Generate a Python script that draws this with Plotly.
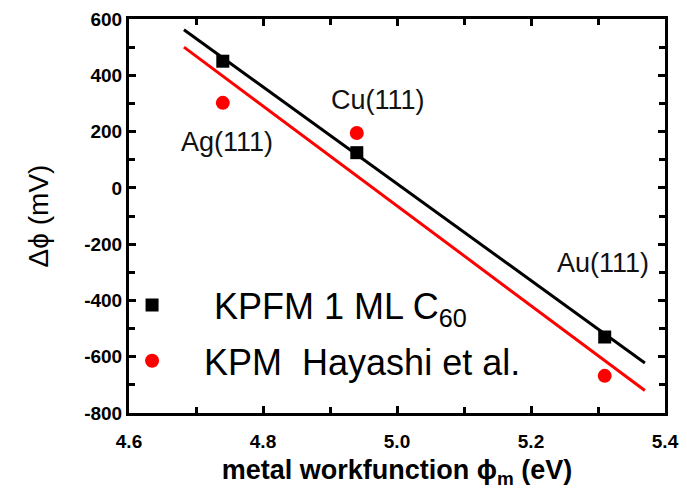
import plotly.graph_objects as go

# Data
metals = ["Ag(111)", "Cu(111)", "Au(111)"]
workfunction = [4.74, 4.94, 5.31]
kpfm_c60 = [450, 125, -530]
kpm_hayashi = [302, 195, -668]

fit_x = [4.682, 5.37]
fit_kpfm = [562, -622]
fit_kpm = [500, -720]

label_x = [4.746, 4.972, 5.307]
label_y = [163, 312, -267]

x_tickvals = [4.6, 4.8, 5.0, 5.2, 5.4]
x_ticktext = ["4.6", "4.8", "5.0", "5.2", "5.4"]
y_tickvals = [600, 400, 200, 0, -200, -400, -600, -800]
y_ticktext = ["600", "400", "200", "0", "-200", "-400", "-600", "-800"]

FONT = "Arial, Liberation Sans, sans-serif"

fig = go.Figure()

fig.add_trace(go.Scatter(x=fit_x, y=fit_kpfm, mode="lines",
                         line=dict(color="black", width=3), showlegend=False,
                         hoverinfo="skip"))
fig.add_trace(go.Scatter(x=fit_x, y=fit_kpm, mode="lines",
                         line=dict(color="#ff0000", width=3), showlegend=False,
                         hoverinfo="skip"))
fig.add_trace(go.Scatter(x=workfunction, y=kpfm_c60, mode="markers",
                         name="\u00a0KPFM 1 ML C<sub>60</sub>",
                         legendgroup="a",
                         marker=dict(symbol="square", color="black", size=13)))
fig.add_trace(go.Scatter(x=workfunction, y=kpm_hayashi, mode="markers",
                         name="KPM\u00a0\u00a0Hayashi et al.",
                         legendgroup="b",
                         marker=dict(symbol="circle", color="#ff0000", size=14)))

for t, x, y in zip(metals, label_x, label_y):
    fig.add_annotation(x=x, y=y, text=t, showarrow=False,
                       font=dict(family=FONT, size=27, color="#111111"))

axis_common = dict(
    showline=True, linecolor="black", linewidth=3, mirror="ticks",
    ticks="inside", ticklen=7, tickwidth=2.5, tickcolor="black",
    showgrid=False, zeroline=False, automargin=False,
    tickfont=dict(family=FONT, size=19, color="black", weight="bold"),
)

fig.update_xaxes(range=[4.6, 5.4], tickvals=x_tickvals, ticktext=x_ticktext,
                 minor=dict(dtick=0.1, tick0=4.6, ticks="inside", ticklen=6, tickwidth=2.5,
                            tickcolor="black", showgrid=False),
                 title=dict(text="metal workfunction \u03d5<sub>m</sub> (eV)",
                            font=dict(family=FONT, size=27, color="black", weight="bold"),
                            standoff=10),
                 ticklabelstandoff=9,
                 **axis_common)
fig.update_yaxes(range=[-800, 600], tickvals=y_tickvals, ticktext=y_ticktext,
                 minor=dict(dtick=100, tick0=0, ticks="inside", ticklen=6, tickwidth=2.5,
                            tickcolor="black", showgrid=False),
                 title=dict(text="\u0394\u03d5 (mV)",
                            font=dict(family=FONT, size=28, color="black"),
                            standoff=28),
                 ticklabelstandoff=0,
                 **axis_common)

# The page body adds an 8 px offset; size the figure to fit the 687x493 window.
fig.update_layout(
    width=679, height=485,
    margin=dict(l=121, r=22, t=11, b=80),
    paper_bgcolor="white", plot_bgcolor="white",
    font=dict(family=FONT, color="black"),
    showlegend=True,
    legend=dict(x=-0.054, y=0.35, xanchor="left", yanchor="top",
                bgcolor="rgba(0,0,0,0)", borderwidth=0,
                font=dict(family=FONT, size=36, color="black"),
                itemwidth=94, tracegroupgap=6),
)

fig.write_html("out.html")
